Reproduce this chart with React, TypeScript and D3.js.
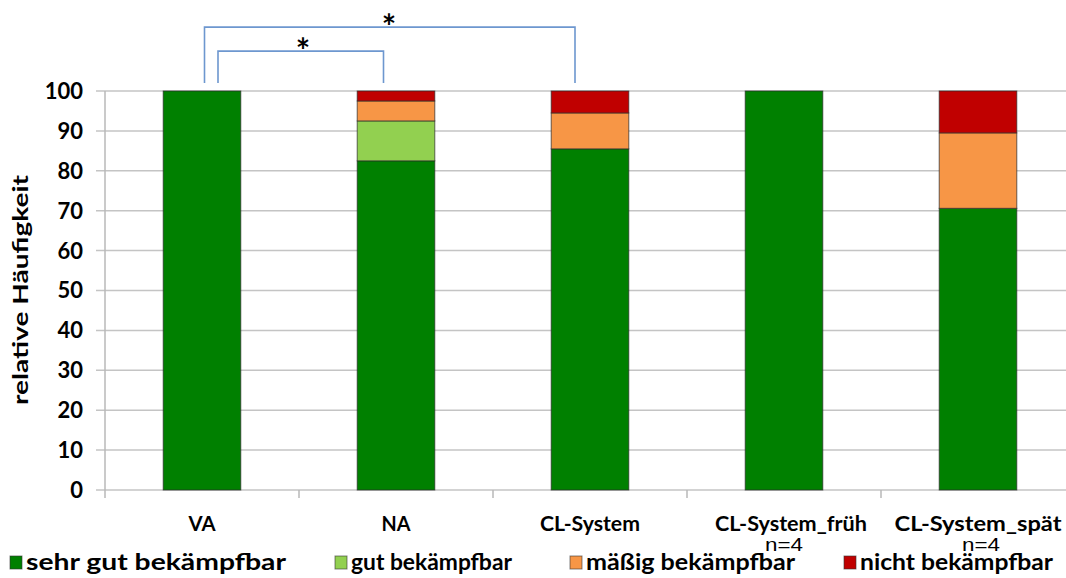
import React from "react";
import * as d3 from "d3";

const categories = ["VA", "NA", "CL-System", "CL-System_früh", "CL-System_spät"];
const sehrGut = [100, 82.5, 85.5, 100, 70.6];
const gut = [0, 10, 0, 0, 0];
const maessig = [0, 5, 9, 0, 18.9];
const nicht = [0, 2.5, 5.5, 0, 10.5];
const seriesNames = ["sehr gut bekämpfbar", "gut bekämpfbar", "mäßig bekämpfbar", "nicht bekämpfbar"];
const seriesColors = ["#008000", "#92d050", "#f79646", "#c00000"];
const yTicks = [0, 10, 20, 30, 40, 50, 60, 70, 80, 90, 100];
const nLabels = ["", "", "", "n=4", "n=4"];

const W = 1066;
const H = 578;
const FONT = "Lato, 'Open Sans', sans-serif";

export default function App() {
  const x = d3.scaleBand<string>().domain(categories).range([105, 1075]).paddingInner(0.6).paddingOuter(0.3);
  const y = d3.scaleLinear().domain([0, 100]).range([490, 91]);
  const step = x.step();
  const bounds = categories.map((_, i) => 105 + i * step);
  bounds.push(105 + categories.length * step);

  const table = categories.map((c, i) => ({ cat: c, s0: sehrGut[i], s1: gut[i], s2: maessig[i], s3: nicht[i] }));
  const stack = d3.stack<any>().keys(["s0", "s1", "s2", "s3"])(table);

  const cx = (c: string) => (x(c) as number) + x.bandwidth() / 2;

  const legendX = [10, 335, 570, 844];
  const legendTextLen = [260, 161, 209, 193];
  const catLen = [27, 29, 100, 152, 167];
  const nOffset = [0, 0, 0, 0, 3];

  const bracketColor = "#6d97cf";
  const outer = { x1: cx("VA") + 2.5, x2: cx("CL-System") - 15, top: y(116), bot: y(102) };
  const inner = { x1: cx("VA") + 16, x2: cx("NA") - 12.5, top: y(110), bot: y(102) };

  return (
    <svg width={W} height={H} style={{ position: "absolute", left: 0, top: 0, background: "#fff" }}>
      {/* gridlines */}
      {yTicks.map((t) => (
        <line key={t} x1={96} x2={W} y1={y(t)} y2={y(t)} stroke="#c4c4c4" strokeWidth={1.5} />
      ))}
      {/* y axis */}
      <line x1={105} x2={105} y1={y(100)} y2={y(0)} stroke="#b8b8b8" strokeWidth={1.5} />
      {bounds.map((b, i) => (
        <line key={i} x1={b} x2={b} y1={y(0)} y2={y(0) + 8} stroke="#b8b8b8" strokeWidth={1.5} />
      ))}
      {yTicks.map((t) => (
        <text
          key={t}
          x={83}
          y={y(t)}
          dy="0.36em"
          textAnchor="end"
          fontFamily={FONT}
          fontWeight="bold"
          fontSize={22}
          fill="#000"
        >
          {t}
        </text>
      ))}
      <text
        transform={`translate(28,290) rotate(-90)`}
        textAnchor="middle"
        fontFamily={FONT}
        fontWeight="bold"
        fontSize={21}
        textLength={230}
        lengthAdjust="spacingAndGlyphs"
      >
        relative Häufigkeit
      </text>
      {/* bars */}
      {stack.map((layer, k) =>
        layer.map((d: any, i: number) => {
          const h = y(d[0]) - y(d[1]);
          if (h <= 0) return null;
          return (
            <rect
              key={`${k}-${i}`}
              x={x(categories[i])}
              y={y(d[1])}
              width={x.bandwidth()}
              height={h}
              fill={seriesColors[k]}
              stroke="#2a2a2a"
              strokeOpacity={0.7}
              strokeWidth={1}
            />
          );
        })
      )}
      {/* category labels */}
      {categories.map((c, i) => (
        <text
          key={c}
          x={cx(c) + (i === 3 ? 7 : 0)}
          y={531}
          textAnchor="middle"
          fontFamily={FONT}
          fontWeight="bold"
          fontSize={21}
          textLength={catLen[i]}
          lengthAdjust="spacingAndGlyphs"
        >
          {c}
        </text>
      ))}
      {/* significance brackets */}
      {[outer, inner].map((b, i) => (
        <path
          key={i}
          d={`M${b.x1},${b.bot}V${b.top}H${b.x2}V${b.bot}`}
          fill="none"
          stroke={bracketColor}
          strokeWidth={1.6}
        />
      ))}
      <text x={389} y={39} textAnchor="middle" fontFamily={FONT} fontWeight="bold" fontSize={34}>
        *
      </text>
      <text x={303} y={63} textAnchor="middle" fontFamily={FONT} fontWeight="bold" fontSize={34}>
        *
      </text>
      {/* legend */}
      {seriesNames.map((s, i) => (
        <g key={s}>
          <rect x={legendX[i]} y={556} width={12} height={13} fill={seriesColors[i]} stroke="#333" strokeOpacity={0.6} />
          <text
            x={legendX[i] + 16}
            y={570}
            fontFamily={FONT}
            fontWeight="bold"
            fontSize={22}
            textLength={legendTextLen[i]}
            lengthAdjust="spacingAndGlyphs"
          >
            {s}
          </text>
        </g>
      ))}
      {/* n labels drawn on top, as in the reference */}
      {nLabels.map((n, i) =>
        n ? (
          <text
            key={i}
            x={cx(categories[i]) + nOffset[i]}
            y={551}
            textAnchor="middle"
            fontFamily="'Liberation Sans', Arial, sans-serif"
            fontSize={18}
            textLength={38}
            lengthAdjust="spacingAndGlyphs"
          >
            {n}
          </text>
        ) : null
      )}
    </svg>
  );
}
